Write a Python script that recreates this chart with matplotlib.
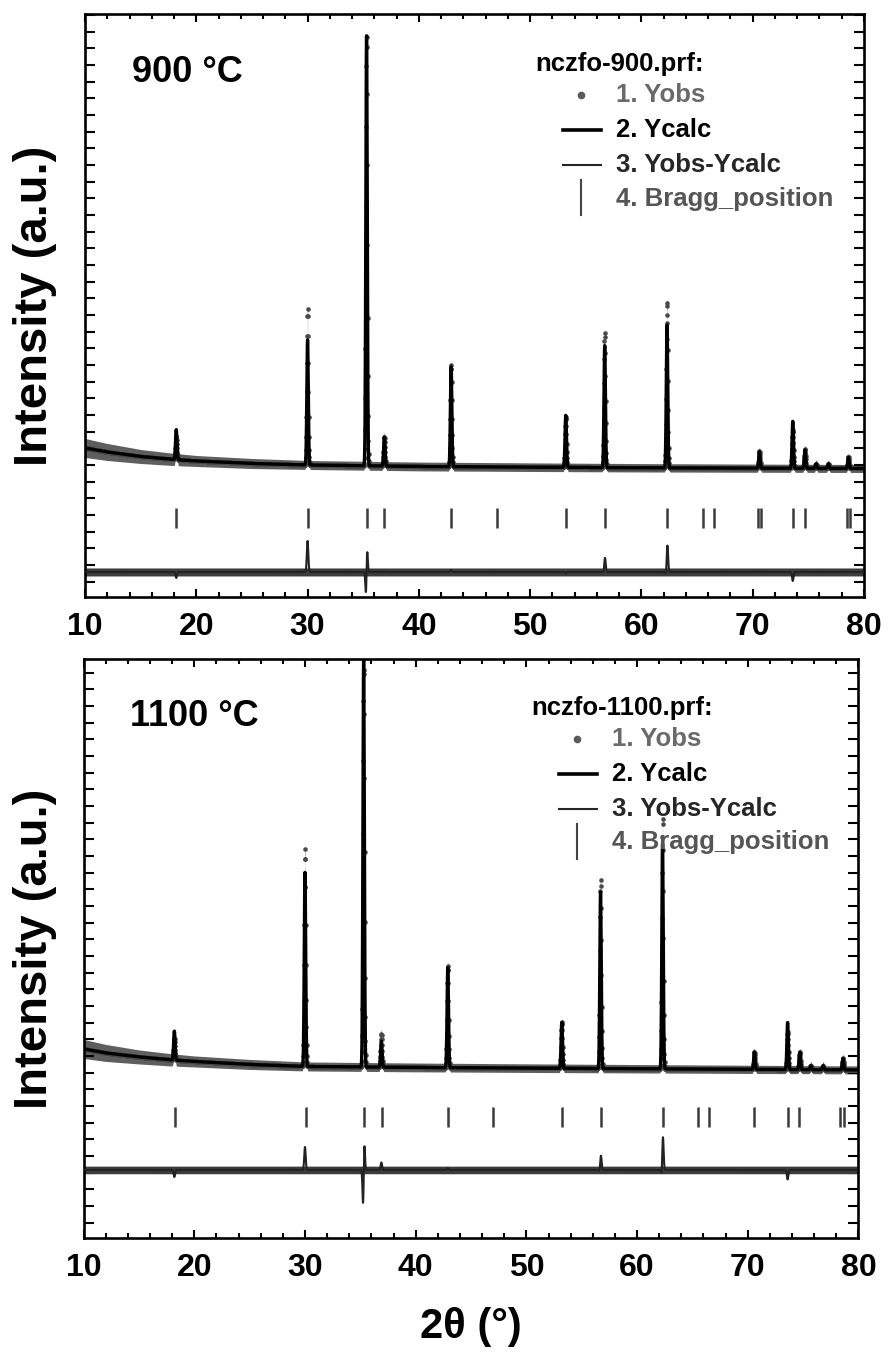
import numpy as np
import matplotlib.pyplot as plt
from matplotlib.ticker import MultipleLocator

plt.rcParams['font.family'] = ['Liberation Sans', 'DejaVu Sans']
plt.rcParams['font.weight'] = 'bold'

# 2theta sampling grid of the measurement (deg)
two_theta = np.arange(10.0, 80.001, 0.02)

# reflections that carry visible intensity (deg)
peak_pos = [18.2, 30.0, 35.3, 36.9, 42.9, 53.2, 56.7, 62.3, 70.6, 73.6, 74.7, 75.7, 76.8, 78.6]

# --- 900 C ---
obs_900 = [240, 1560, 4300, 295, 1020, 505, 1350, 1660, 170, 380, 190, 45, 45, 115]
calc_900 = [300, 1250, 4300, 290, 1000, 520, 1220, 1430, 165, 470, 185, 45, 45, 110]
shift_900 = [0, 0, 0.005, 0, 0, 0, 0.003, 0.006, 0, 0, 0, 0, 0, 0]
bg_x_900 = [10, 12, 15, 18, 20, 25, 30, 40, 50, 60, 70, 80]
bg_y_900 = [220, 180, 135, 105, 90, 65, 50, 35, 28, 22, 18, 15]
spread_x = [10, 15, 20, 30, 80]
spread_900 = [95, 70, 55, 45, 40]
noise_900 = 40
bragg_900 = [18.2, 30.0, 35.3, 36.9, 42.9, 47.0, 53.2, 56.7, 62.3, 65.5, 66.5,
             70.5, 70.7, 73.6, 74.7, 78.5, 78.7]

# --- 1100 C ---
obs_1100 = [220, 2170, 4000, 335, 1020, 460, 1885, 2510, 175, 375, 175, 40, 40, 115]
calc_1100 = [290, 1940, 4075, 260, 1000, 460, 1765, 2250, 175, 470, 175, 40, 40, 115]
shift_1100 = [0, 0, 0.0075, 0, 0, 0, 0.003, 0.006, 0, 0, 0, 0, 0, 0]
bg_x_1100 = [10, 12, 15, 18, 20, 25, 30, 40, 50, 60, 70, 80]
bg_y_1100 = [210, 170, 130, 100, 85, 55, 35, 25, 18, 12, 6, 0]
spread_1100 = [95, 70, 55, 45, 40]
noise_1100 = 38
bragg_1100 = [18.3, 30.05, 35.3, 37.0, 42.95, 46.95, 53.2, 56.75, 62.3, 65.5, 66.5,
              70.55, 73.6, 74.65, 78.35, 78.65]

PEAK_SIGMA = 0.065


def profile(x, pos, heights, shifts):
    y = np.zeros_like(x)
    for p, h, s in zip(pos, heights, shifts):
        y += h * np.exp(-0.5 * ((x - p - s) / PEAK_SIGMA) ** 2)
    return y


def draw_panel(ax, obs_h, calc_h, shifts, bg_x, bg_y, spread, noise, bragg,
               diff_offset, bragg_center, ylim, ytick_offset, temp_label, prf_name):
    bg = np.interp(two_theta, bg_x, bg_y)
    y_obs = bg + profile(two_theta, peak_pos, obs_h, shifts)
    y_calc = bg + profile(two_theta, peak_pos, calc_h, [0] * len(shifts))
    sp = np.interp(two_theta, spread_x, spread)
    diff = y_obs - y_calc + diff_offset

    ax.fill_between(two_theta, y_obs - sp, y_obs + sp, color='#5e5e5e',
                    linewidth=0, zorder=1)
    ax.plot(two_theta, y_obs, 'o', color='#4a4a4a', markersize=3.3,
            markeredgewidth=0, zorder=2)
    ax.plot(two_theta, y_calc, color='black', lw=2.4, zorder=3)
    # scatter band of the difference curve, then the curve itself
    ax.fill_between(two_theta, diff_offset - noise, diff_offset + noise,
                    color='#3c3c3c', linewidth=0, zorder=2)
    ax.plot(two_theta, diff, color='#222222', lw=1.5, zorder=3)
    ax.vlines(bragg, bragg_center - 100, bragg_center + 100, color='#3a3a3a', lw=1.8)

    ax.set_xlim(10, 80)
    ax.set_ylim(*ylim)
    ax.xaxis.set_major_locator(MultipleLocator(10))
    ax.xaxis.set_minor_locator(MultipleLocator(2))
    ax.yaxis.set_major_locator(MultipleLocator(500 / 3, offset=ytick_offset))
    ax.yaxis.set_minor_locator(MultipleLocator(500 / 3, offset=ytick_offset))
    ax.tick_params(axis='x', which='both', direction='in', top=True, width=1.5)
    ax.tick_params(axis='x', which='major', length=6, pad=11)
    ax.tick_params(axis='x', which='minor', length=3.8)
    ax.tick_params(axis='y', which='both', direction='in', right=True,
                   labelleft=False, length=7, width=1.5)
    for lab in ax.get_xticklabels():
        lab.set_fontsize(23)
        lab.set_fontweight('bold')
    for sp_ in ax.spines.values():
        sp_.set_linewidth(1.9)

    ax.text(0.060, 0.900, temp_label, transform=ax.transAxes, fontsize=26,
            fontweight='bold', va='center', ha='left')

    # legend block in the FullProf style
    tr = ax.transAxes
    ax.text(0.578, 0.915, prf_name, transform=tr, fontsize=18.5,
            fontweight='bold', va='center', ha='left')
    rows = [0.861, 0.801, 0.741, 0.683]
    labels = ['1. Yobs', '2. Ycalc', '3. Yobs-Ycalc', '4. Bragg_position']
    colors = ['#6a6a6a', 'black', '#262626', '#555555']
    for yy, lab, c in zip(rows, labels, colors):
        ax.text(0.682, yy, lab, transform=tr, fontsize=18.5, fontweight='bold',
                color=c, va='center', ha='left')
    ax.plot([0.637], [rows[0]], 'o', color='#5a5a5a', markersize=4.5, transform=tr)
    ax.plot([0.613, 0.663], [rows[1]] * 2, color='black', lw=2.6, transform=tr)
    ax.plot([0.613, 0.663], [rows[2]] * 2, color='#262626', lw=1.5, transform=tr)
    ax.plot([0.637, 0.637], [0.655, 0.715], color='#444444', lw=1.5, transform=tr)


fig = plt.figure(figsize=(8.91, 13.58), dpi=100)
ax1 = fig.add_axes([0.0954, 0.5604, 0.8743, 0.4293])
ax2 = fig.add_axes([0.0938, 0.0884, 0.8697, 0.4264])

draw_panel(ax1, obs_900, calc_900, shift_900, bg_x_900, bg_y_900, spread_900, noise_900,
           bragg_900, -1020, -480, (-1270, 4560), 49.6, '900 °C', 'nczfo-900.prf:')
draw_panel(ax2, obs_1100, calc_1100, shift_1100, bg_x_1100, bg_y_1100, spread_1100,
           noise_1100, bragg_1100, -1000, -470, (-1680, 4110), 140, '1100 °C',
           'nczfo-1100.prf:')

for ax in (ax1, ax2):
    pos = ax.get_position()
    fig.text(0.039, pos.y0 + pos.height / 2, 'Intensity (a.u.)', rotation=90,
             fontsize=34, fontweight='bold', ha='center', va='center')

fig.text(0.529, 0.0228, '2θ (°)', fontsize=30, fontweight='bold',
         ha='center', va='center')

fig.savefig('out.png', dpi=100)
